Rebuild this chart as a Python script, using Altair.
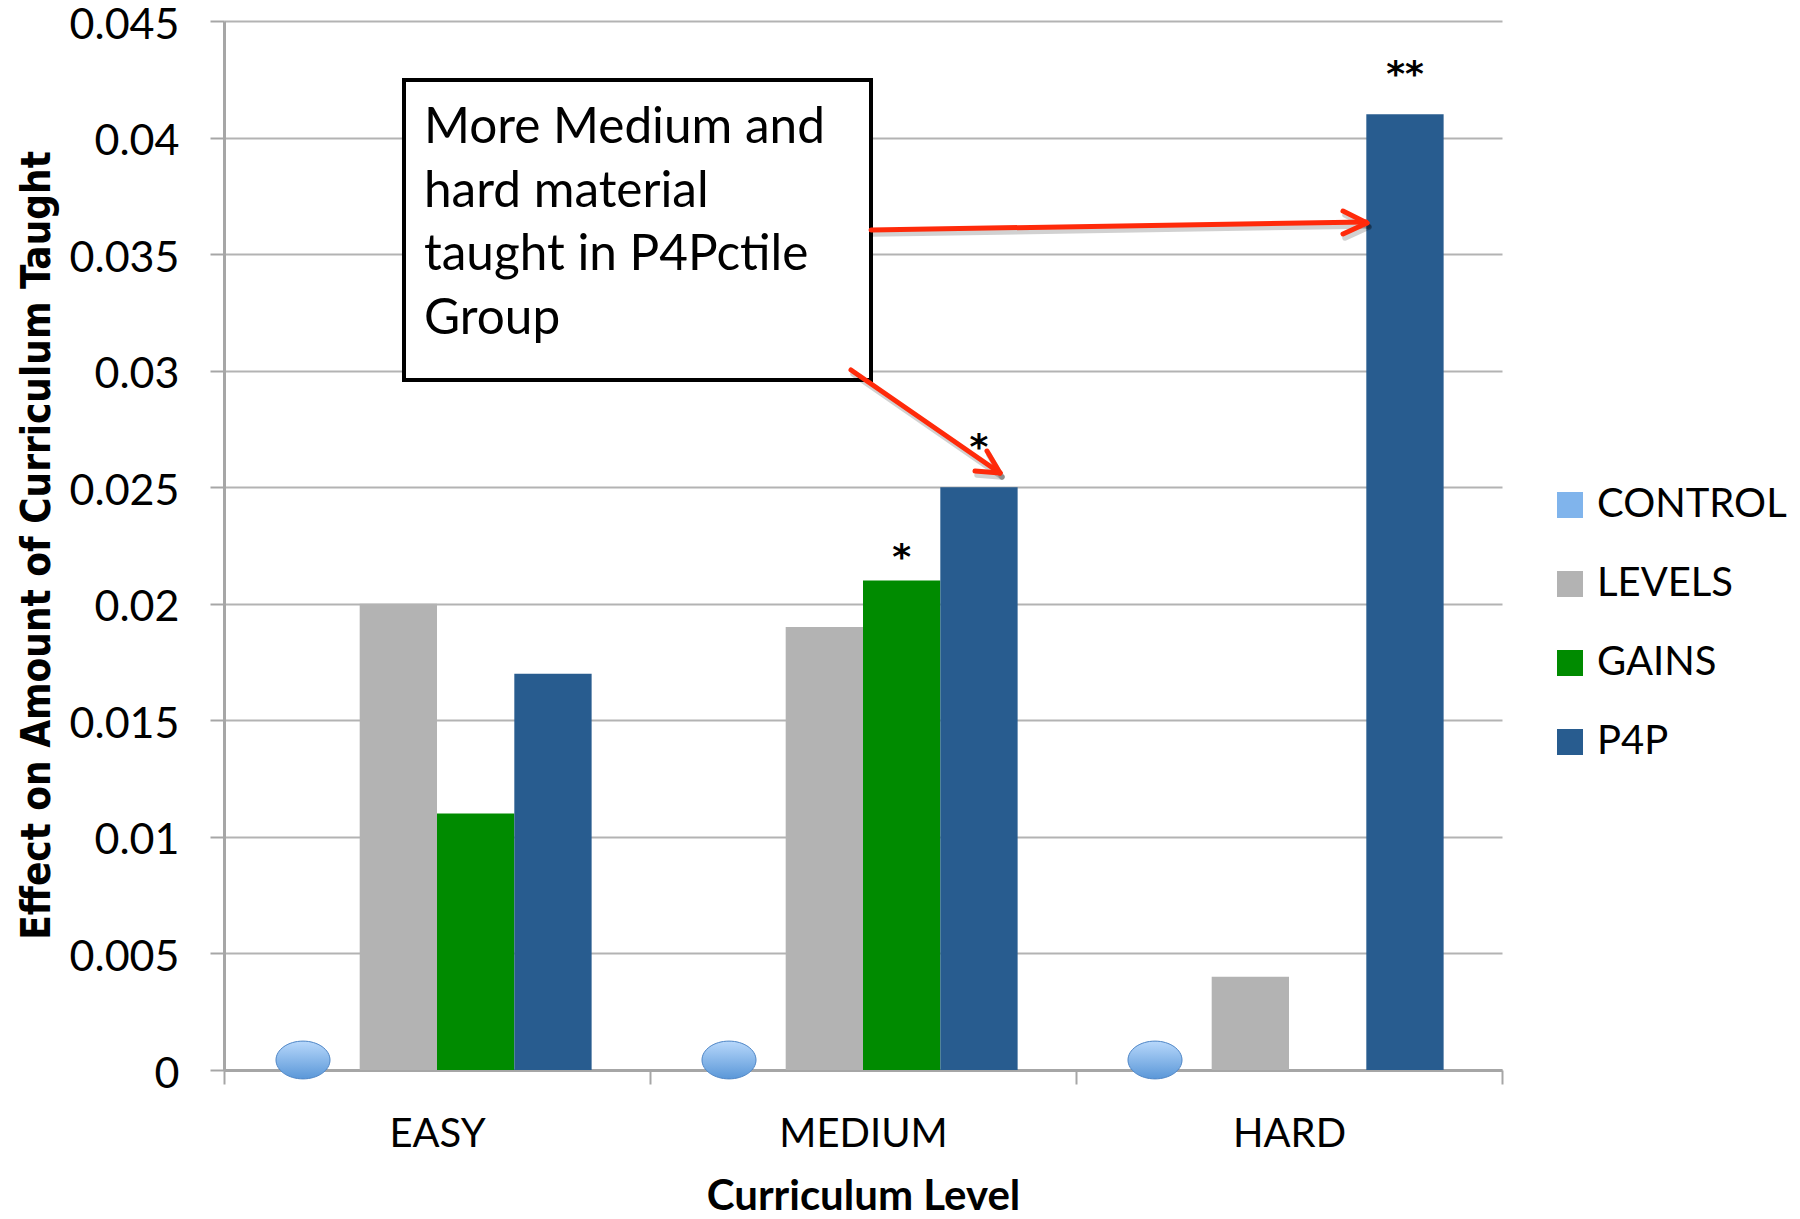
import altair as alt
import pandas as pd

# ---- data -------------------------------------------------------------
levels = ["EASY", "MEDIUM", "HARD"]
series = ["CONTROL", "LEVELS", "GAINS", "P4P"]

control_vals = [0.0, 0.0, 0.0]
levels_vals = [0.020, 0.019, 0.004]
gains_vals = [0.011, 0.021, None]
p4p_vals = [0.017, 0.025, 0.041]

# significance markers
control_stars = ["", "", ""]
levels_stars = ["", "", ""]
gains_stars = ["", "*", ""]
p4p_stars = ["", "*", "**"]

colors = ["#80b4ec", "#b3b3b3", "#008b00", "#285c8f"]

rows = []
for s, vals, stars in zip(series,
                          [control_vals, levels_vals, gains_vals, p4p_vals],
                          [control_stars, levels_stars, gains_stars, p4p_stars]):
    for lvl, v, st in zip(levels, vals, stars):
        if v is not None:
            rows.append({"level": lvl, "series": s, "value": v, "star": st})
df = pd.DataFrame(rows)

# ---- layout -----------------------------------------------------------
W, H = 1278, 1049
FONT = "Lato"

x_enc = alt.X("level:N", sort=levels,
              scale=alt.Scale(paddingInner=0, paddingOuter=0),
              axis=alt.Axis(title="Curriculum Level", labelAngle=0,
                            tickBand="extent", titleY=139,
                            titleBaseline="alphabetic"))
off_scale = alt.Scale(domain=series, paddingInner=0, paddingOuter=0.755)
y_enc = alt.Y("value:Q",
              scale=alt.Scale(domain=[0, 0.045], nice=False),
              axis=alt.Axis(title="Effect on Amount of Curriculum Taught",
                            values=[0, 0.005, 0.01, 0.015, 0.02, 0.025,
                                    0.03, 0.035, 0.04, 0.045],
                            format="~g", labelOffset=4,
                            titleX=-187, titleY=524,
                            titleAngle=-90, titleAlign="center",
                            titleBaseline="middle",
                            titleFont="DejaVu Sans Condensed, DejaVu Sans",
                            titleFontSize=40))

bars = alt.Chart(df).mark_bar().encode(
    x=x_enc,
    xOffset=alt.XOffset("series:N", sort=series, scale=off_scale),
    y=y_enc,
    color=alt.Color("series:N", sort=series,
                    scale=alt.Scale(domain=series, range=colors),
                    legend=alt.Legend(title=None, orient="none",
                                      legendX=1326, legendY=464,
                                      symbolType="square", symbolSize=676,
                                      symbolStrokeWidth=0, labelFont=FONT,
                                      labelFontSize=40, labelOffset=7,
                                      labelLimit=0,
                                      rowPadding=39, padding=0,
                                      labelColor="black")),
)

# CONTROL group drawn as a small shaded oval sitting on the baseline,
# nudged left of its slot (band center minus 1.5 bar widths)
oval_path = "M-1,0 A1,0.7,0,1,1,1,0 A1,0.7,0,1,1,-1,0 Z"
oval_fill = alt.LinearGradient(
    gradient="linear", x1=0, y1=0, x2=0, y2=1,
    stops=[alt.GradientStop(color="#b8d8fb", offset=0),
           alt.GradientStop(color="#5a97d8", offset=1)])
ovals = alt.Chart(df[df.series == "CONTROL"]).mark_point(
    shape=oval_path, size=2916, filled=True, fill=oval_fill,
    stroke="#4f86c6", strokeWidth=1, opacity=1, yOffset=-10, xOffset=-134,
).encode(
    x=alt.X("level:N", sort=levels),
    y="value:Q",
)


def star_layer(name, dy):
    return alt.Chart(df[(df.star != "") & (df.series == name)]).mark_text(
        font="DejaVu Sans", fontSize=36, fontWeight="bold", color="black",
        baseline="alphabetic", dy=dy,
    ).encode(
        x=alt.X("level:N", sort=levels),
        xOffset=alt.XOffset("series:N", sort=series),
        y="value:Q",
        text="star:N",
    )


stars_gains = star_layer("GAINS", -11)
stars_p4p = star_layer("P4P", -28)

# ---- callout box and arrows ------------------------------------------
box = alt.Chart(pd.DataFrame({"k": [0]})).mark_rect(
    fill="white", stroke="black", strokeWidth=4,
).encode(x=alt.value(180), x2=alt.value(647),
         y=alt.value(59), y2=alt.value(359))

note = alt.Chart(pd.DataFrame({"k": [0]})).mark_text(
    align="left", baseline="alphabetic", font=FONT, fontSize=49.5,
    lineHeight=63.5, color="black",
).encode(x=alt.value(200), y=alt.value(122),
         text=alt.value(["More Medium and", "hard material",
                         "taught in P4Pctile", "Group"]))

segments = [
    ((647, 209), (1142, 201)),
    ((1119, 190), (1143, 202)),
    ((1119, 213), (1143, 202)),
    ((627, 349), (776, 452)),
    ((763, 430), (776, 452)),
    ((751, 450), (776, 452)),
]
arrow_layers = []
for dx, dy, col, op, sw in [(2, 4, "#000000", 0.18, 5.5), (0, 0, "#ff2a0a", 1, 5)]:
    for (x1, y1), (x2, y2) in segments:
        arrow_layers.append(
            alt.Chart(pd.DataFrame({"k": [0]})).mark_rule(
                color=col, opacity=op, strokeWidth=sw, strokeCap="round",
            ).encode(x=alt.value(x1 + dx), x2=alt.value(x2 + dx),
                     y=alt.value(y1 + dy), y2=alt.value(y2 + dy))
        )

chart = alt.layer(bars, ovals, stars_gains, stars_p4p, box, note,
                  *arrow_layers).properties(
    width=W, height=H,
    autosize=alt.AutoSizeParams(type="none"),
    padding={"left": 224, "top": 21, "right": 298, "bottom": 149},
    background="white",
).configure_view(stroke=None).configure_axis(
    labelFont=FONT, labelFontSize=40, labelColor="black",
    titleFont=FONT, titleFontSize=42, titleFontWeight="bold",
    titleColor="black",
    domainColor="#a6a6a6", domainWidth=3,
    tickColor="#a6a6a6", tickWidth=2, tickSize=14,
    gridColor="#b3b3b3", gridWidth=2,
).configure_axisY(labelPadding=31, labelFontSize=43, grid=True).configure_axisX(
    grid=False, labelPadding=30,
)

chart.save("out.html", embed_options={"renderer": "svg", "actions": False})
